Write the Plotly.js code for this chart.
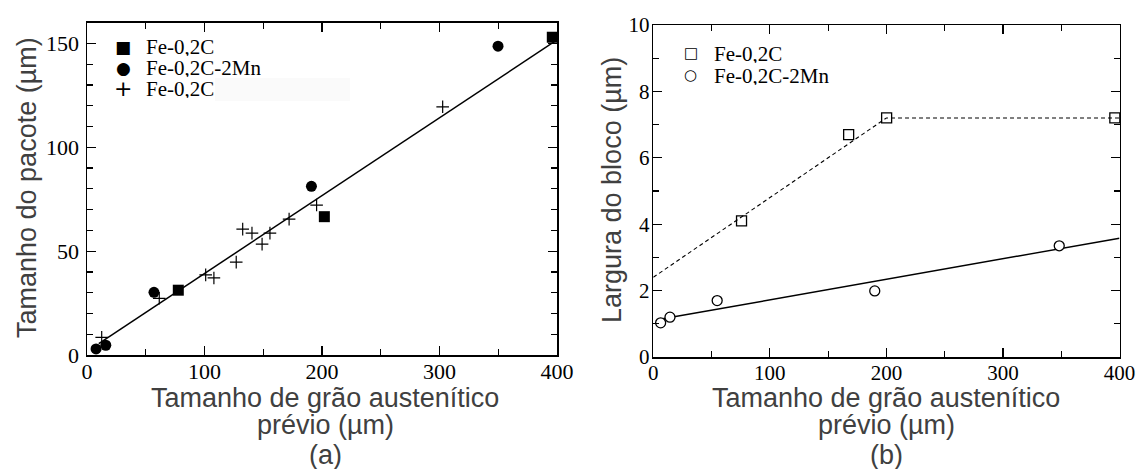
<!DOCTYPE html>
<html>
<head>
<meta charset="utf-8">
<script src="https://cdn.plot.ly/plotly-3.0.1.min.js"></script>
<style>html,body{margin:0;padding:0;background:#fff;}#chart{width:1138px;height:469px;}</style>
</head>
<body>
<div id="chart"></div>
<script>
// ---- Panel (a): Tamanho do pacote ----
const seriesNamesA = ["Fe-0,2C", "Fe-0,2C-2Mn", "Fe-0,2C"];
const aSquareX = [77.7, 202, 396];
const aSquareY = [31.2, 66.6, 153];
const aCircleX = [7.7, 16, 57, 191, 349.8];
const aCircleY = [2.9, 4.7, 30.2, 81.2, 148.7];
const aPlusX = [12.5, 61.5, 101, 108, 127, 132.5, 140.4, 149, 155.7, 172, 195.4, 302.7];
const aPlusY = [8.5, 27.3, 38.6, 37.1, 44.7, 60.6, 58.7, 53.4, 58.7, 65.4, 72.2, 119.5];
const aFitX = [10, 400];
const aFitY = [5.5, 151.7];

// ---- Panel (b): Largura do bloco ----
const seriesNamesB = ["Fe-0,2C", "Fe-0,2C-2Mn"];
const bSquareX = [75.7, 167.6, 200.2, 396];
const bSquareY = [4.1, 6.7, 7.2, 7.2];
const bCircleX = [6.3, 14.3, 54.8, 190, 348.3];
const bCircleY = [1.03, 1.2, 1.7, 1.99, 3.35];
const bFitDashX = [0, 200, 400];
const bFitDashY = [2.4, 7.2, 7.2];
const bFitSolidX = [8, 400];
const bFitSolidY = [1.15, 3.58];

const xTickVals = [0, 100, 200, 300, 400];
const yTickValsA = [0, 50, 100, 150];
const yTickValsB = [0, 2, 4, 6, 8, 10];

const xTitleLines = ["Tamanho de grão austenítico", "prévio (µm)"];
const yTitleA = "Tamanho do pacote (µm)";
const yTitleB = "Largura do bloco (µm)";
const panelLabels = ["(a)", "(b)"];

const W = 1138, H = 469;
const px = x => x / W;
const py = y => 1 - y / H;

const serif = "Liberation Serif, Times New Roman, serif";
const sans = "Liberation Sans, Arial, sans-serif";

const traces = [
  {x: aFitX, y: aFitY, mode: "lines", line: {color: "#000", width: 1.5}, xaxis: "x", yaxis: "y", showlegend: false, hoverinfo: "skip"},
  {x: aSquareX, y: aSquareY, mode: "markers", name: seriesNamesA[0], marker: {symbol: "square", size: 11, color: "#000"}, xaxis: "x", yaxis: "y", showlegend: false, cliponaxis: false},
  {x: aCircleX, y: aCircleY, mode: "markers", name: seriesNamesA[1], marker: {symbol: "circle", size: 11, color: "#000"}, xaxis: "x", yaxis: "y", showlegend: false},
  {x: aPlusX, y: aPlusY, mode: "markers", name: seriesNamesA[2], marker: {symbol: "cross-thin", size: 9, color: "#000", line: {color: "#000", width: 1.2}}, xaxis: "x", yaxis: "y", showlegend: false},
  {x: bFitDashX, y: bFitDashY, mode: "lines", line: {color: "#000", width: 1.1, dash: "4px,3px"}, xaxis: "x2", yaxis: "y2", showlegend: false, hoverinfo: "skip"},
  {x: bFitSolidX, y: bFitSolidY, mode: "lines", line: {color: "#000", width: 1.5}, xaxis: "x2", yaxis: "y2", showlegend: false, hoverinfo: "skip"},
  {x: bSquareX, y: bSquareY, mode: "markers", name: seriesNamesB[0], marker: {symbol: "square-open", size: 10, color: "#000", line: {width: 1.3}}, xaxis: "x2", yaxis: "y2", showlegend: false, cliponaxis: false},
  {x: bCircleX, y: bCircleY, mode: "markers", name: seriesNamesB[1], marker: {symbol: "circle", size: 10, color: "#fff", line: {color: "#000", width: 1.3}}, xaxis: "x2", yaxis: "y2", showlegend: false}
];

function axisCommon(fs, extra) {
  return Object.assign({
    showline: true, linecolor: "#000", linewidth: 1.5, mirror: "allticks",
    ticks: "inside", ticklen: 9, tickwidth: 1.3, tickcolor: "#000",
    showgrid: false, zeroline: false, fixedrange: true,
    tickfont: {family: serif, size: fs, color: "#000", weight: "normal"}
  }, extra);
}
const minorX = {dtick: 50, ticks: "inside", ticklen: 6, tickwidth: 1.2, tickcolor: "#000"};

const annotations = [];
function ann(text, x, y, opts) {
  annotations.push(Object.assign({text: text, xref: "paper", yref: "paper", x: px(x), y: py(y), showarrow: false,
    xanchor: "center", yanchor: "middle", font: {family: sans, size: 27, color: "#404040"}}, opts || {}));
}
// axis titles
ann(yTitleA, 27, 188, {textangle: -90});
ann(yTitleB, 612, 190, {textangle: -90});
[325, 886].forEach((cx, i) => {
  ann(xTitleLines[0], cx, 398);
  ann(xTitleLines[1], cx, 425);
  ann(panelLabels[i], cx, 455);
});
// legends
const legFont = {family: serif, size: 21, color: "#000"};
const legA = [["■", 46.7, 17], ["●", 67.7, 17], ["+", 88.3, 22]];
legA.forEach((s, i) => {
  ann(s[0], 123, s[1], {height: 18, font: {family: "DejaVu Sans", size: s[2], color: "#000"}});
  ann(seriesNamesA[i], 145, s[1], {xanchor: "left", height: 19, borderpad: 0, font: legFont});
});
const legB = [["□", 53.3], ["○", 75]];
legB.forEach((s, i) => {
  ann(s[0], 690.7, s[1], {height: 18, font: {family: "DejaVu Sans", size: 15, color: "#000"}});
  ann(seriesNamesB[i], 712.7, s[1], {xanchor: "left", height: 19, borderpad: 0, font: legFont});
});

const layout = {
  width: W, height: H,
  margin: {l: 0, r: 0, t: 0, b: 0},
  paper_bgcolor: "#fff", plot_bgcolor: "rgba(0,0,0,0)",
  font: {family: serif, color: "#000"},
  showlegend: false,
  xaxis: axisCommon(22, {domain: [px(87), px(557)], range: [0, 400], tickvals: xTickVals, ticklabelstandoff: -4, minor: minorX, anchor: "y"}),
  yaxis: axisCommon(22, {domain: [py(355), py(22.7)], range: [0, 160], tickvals: yTickValsA, ticklabelstandoff: 2, minor: {dtick: 10, ticks: "inside", ticklen: 6, tickwidth: 1.2, tickcolor: "#000"}, anchor: "x"}),
  xaxis2: axisCommon(21, {domain: [px(653.3), px(1119.5)], range: [0, 400], tickvals: xTickVals, ticklabelstandoff: -4, minor: minorX, anchor: "y2"}),
  yaxis2: axisCommon(21, {domain: [py(357), py(25)], range: [0, 10], tickvals: yTickValsB, ticklabelstandoff: -2, minor: {dtick: 1, ticks: "inside", ticklen: 6, tickwidth: 1.2, tickcolor: "#000"}, anchor: "x2"}),
  shapes: [
    {type: "rect", xref: "paper", yref: "paper", x0: px(215), x1: px(350), y0: py(101), y1: py(78), fillcolor: "#fafafa", line: {width: 0}, layer: "below"}
  ],
  annotations: annotations
};

Plotly.newPlot("chart", traces, layout, {displayModeBar: false, staticPlot: true});
</script>
</body>
</html>
